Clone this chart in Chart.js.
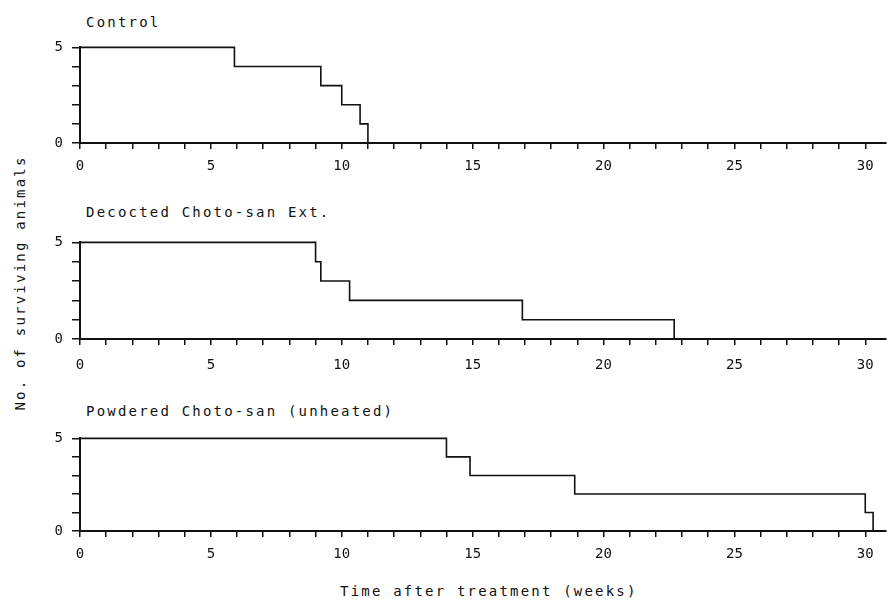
<!DOCTYPE html>
<html>
<head>
<meta charset="utf-8">
<script src="https://cdn.jsdelivr.net/npm/chart.js@4"></script>
<style>
    html, body { margin: 0; padding: 0; background: #fff; }
    body { width: 887px; height: 601px; position: relative; overflow: hidden; }
    canvas { position: absolute; }
    .txt {
        position: absolute;
        font-family: 'DejaVu Sans Mono', monospace;
        font-size: 14px;
        line-height: 14px;
        letter-spacing: 2.2px;
        color: #111;
        white-space: nowrap;
    }
    #ylabel { left: 20px; top: 283px; transform: translate(-50%, -50%) rotate(-90deg); }
</style>
</head>
<body>
<div class="txt" style="left:86px; top:15px;">Control</div>
<div class="txt" style="left:86px; top:205px;">Decocted Choto-san Ext.</div>
<div class="txt" style="left:86px; top:404px;">Powdered Choto-san (unheated)</div>
<div class="txt" style="left:340px; top:584px;">Time after treatment (weeks)</div>
<div class="txt" id="ylabel">No. of surviving animals</div>

<canvas id="controlChart" width="860" height="150"></canvas>
<canvas id="decoctedChart" width="860" height="150"></canvas>
<canvas id="powderedChart" width="860" height="150"></canvas>

<script>
// survival data: week of each step, animals alive from that week on
const controlWeeks = [0, 5.9, 9.2, 10.0, 10.7, 11.0];
const controlCounts = [5, 4, 3, 2, 1, 0];

const decoctedWeeks = [0, 9.0, 9.2, 10.3, 16.9, 22.7];
const decoctedCounts = [5, 4, 3, 2, 1, 0];

const powderedWeeks = [0, 14.0, 14.9, 18.9, 30.0, 30.3];
const powderedCounts = [5, 4, 3, 2, 1, 0];

// axis labels
const xTickLabels = [0, 5, 10, 15, 20, 25, 30];
const yTickLabels = [0, 5];

Chart.defaults.font.family = "'DejaVu Sans Mono', monospace";
Chart.defaults.font.size = 14;
Chart.defaults.color = '#111';

const SurvivalCharts = (function() {
    // plot area boxes (px) for each panel, plus gap under the x axis
    const panels = {
        controlChart: { top: 47, bottom: 143, labelPad: 9 },
        decoctedChart: { top: 242, bottom: 339, labelPad: 12 },
        powderedChart: { top: 438, bottom: 531, labelPad: 9 }
    };
    const PLOT_LEFT = 80, PLOT_RIGHT = 887, AXIS_H = 36, AXIS_W = 30;

    function createChart(canvasId, weeks, counts) {
        const el = document.getElementById(canvasId);
        if (!el) return;
        const box = panels[canvasId];

        const chart = new Chart(el, {
            type: 'line',
            data: {
                datasets: [{
                    data: weeks.map((w, i) => ({ x: w, y: counts[i] })),
                    stepped: 'before',
                    borderColor: '#111',
                    borderWidth: 1.6,
                    pointRadius: 0,
                    fill: false,
                    clip: false
                }]
            },
            options: {
                responsive: false,
                maintainAspectRatio: false,
                animation: false,
                layout: { padding: { top: 4, right: 0, left: 0, bottom: 0 } },
                plugins: {
                    legend: { display: false },
                    tooltip: { enabled: false }
                },
                scales: {
                    x: {
                        type: 'linear',
                        min: 0,
                        max: 30.8,
                        // one tick per week
                        afterBuildTicks: s => {
                            const t = [];
                            for (let v = 0; v <= 30; v++) t.push({ value: v });
                            s.ticks = t;
                        },
                        afterFit: s => { s.height = AXIS_H; },
                        ticks: {
                            autoSkip: false,
                            maxRotation: 0,
                            padding: box.labelPad,
                            callback: v => xTickLabels.includes(v) ? String(v) : ''
                        },
                        grid: {
                            drawOnChartArea: false,
                            drawTicks: true,
                            tickLength: 6,
                            color: '#111',
                            lineWidth: 1.5
                        },
                        border: { display: true, color: '#111', width: 2 }
                    },
                    y: {
                        min: 0,
                        max: 5,
                        afterFit: s => { s.width = AXIS_W; },
                        ticks: {
                            stepSize: 1,
                            autoSkip: false,
                            padding: 9,
                            callback: v => yTickLabels.includes(v) ? String(v) : ''
                        },
                        grid: {
                            drawOnChartArea: false,
                            drawTicks: true,
                            tickLength: 8,
                            color: '#111',
                            lineWidth: 1.5
                        },
                        border: { display: true, color: '#111', width: 2 }
                    }
                }
            }
        });

        // size the canvas so the plot area lands on the panel box
        const a = chart.chartArea;
        const w = Math.round(a.left + (PLOT_RIGHT - PLOT_LEFT) + (chart.width - a.right));
        const h = Math.round(a.top + (box.bottom - box.top) + (chart.height - a.bottom));
        chart.resize(w, h);
        const b = chart.chartArea;
        el.style.left = (PLOT_LEFT - b.left) + 'px';
        el.style.top = (box.top - b.top) + 'px';
        return chart;
    }

    function drawAll() {
        createChart('controlChart', controlWeeks, controlCounts);
        createChart('decoctedChart', decoctedWeeks, decoctedCounts);
        createChart('powderedChart', powderedWeeks, powderedCounts);
    }

    return { drawAll };
})();

SurvivalCharts.drawAll();
</script>
</body>
</html>
